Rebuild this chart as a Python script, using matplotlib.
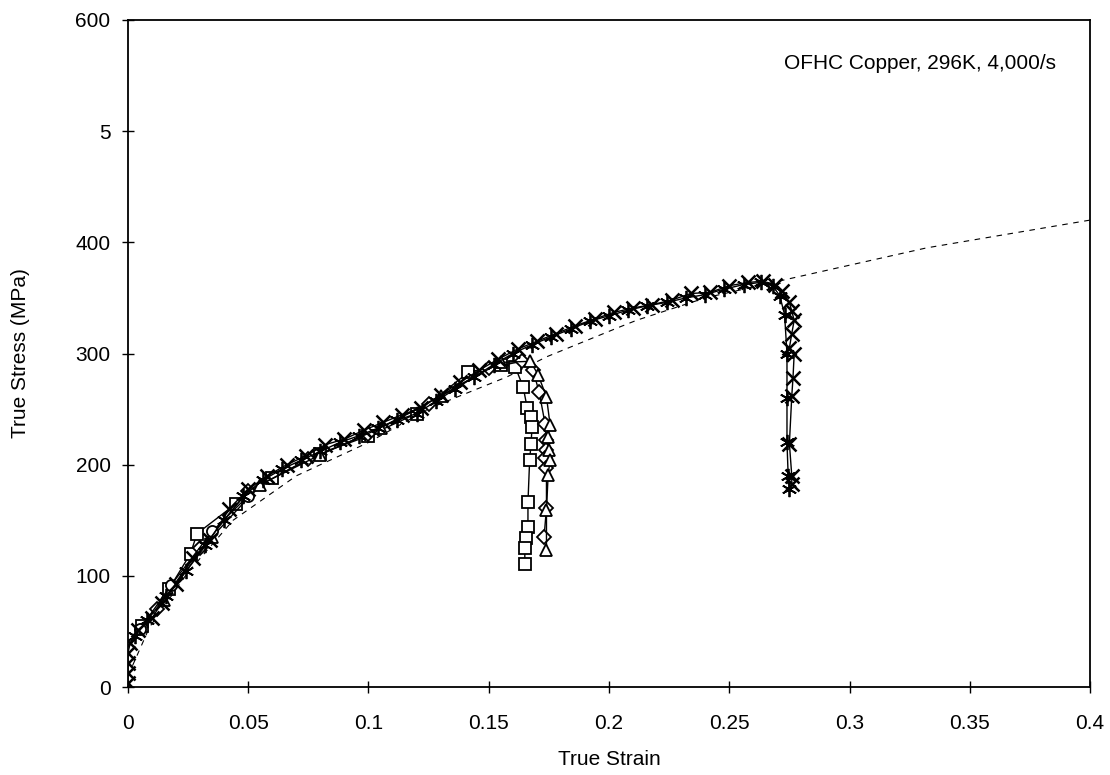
import numpy as np
import matplotlib
matplotlib.use("Agg")
import matplotlib.pyplot as plt

plt.rcParams['font.family'] = ['Liberation Sans', 'DejaVu Sans']

# dashed reference curve
dash_x = [0, 0.009, 0.0245, 0.0437, 0.07, 0.1, 0.1256, 0.1576, 0.174, 0.2046, 0.2116, 0.24, 0.2765, 0.332, 0.4]
dash_y = [10, 54, 102, 150, 190, 220, 251, 279, 297, 324, 330, 350, 368, 395, 420]

# x markers, test to 0.275
xs_x = [0, 0, 0, 0, 0.001, 0.004, 0.01, 0.014, 0.02, 0.027, 0.034, 0.042, 0.05, 0.058, 0.066, 0.074,
        0.082, 0.09, 0.098, 0.106, 0.114, 0.122, 0.13, 0.138, 0.146, 0.154, 0.162, 0.17, 0.178, 0.186,
        0.194, 0.202, 0.21, 0.218, 0.226, 0.234, 0.242, 0.25, 0.258, 0.264, 0.269, 0.272,
        0.275, 0.276, 0.277, 0.276, 0.275, 0.277, 0.2765, 0.276, 0.275, 0.276, 0.276]
xs_y = [4, 13, 22, 31, 40, 51, 62, 76, 93, 116, 132, 160, 178, 190, 200, 208,
        218, 223, 231, 238, 245, 251, 263, 274, 285, 295, 304, 311, 318, 325,
        331, 337, 341, 344, 348, 354, 355, 361, 364, 365, 362, 356,
        346, 338, 330, 318, 305, 300, 278, 262, 219, 190, 183]

# star markers, same test length
st_x = [0.003, 0.008, 0.016, 0.024, 0.032, 0.04, 0.048, 0.056, 0.064, 0.072, 0.08, 0.088, 0.096,
        0.104, 0.112, 0.12, 0.128, 0.136, 0.144, 0.152, 0.16, 0.168, 0.176, 0.184, 0.192, 0.2,
        0.208, 0.216, 0.224, 0.232, 0.24, 0.248, 0.256, 0.263, 0.268,
        0.271, 0.273, 0.274, 0.274, 0.274, 0.2745, 0.275]
st_y = [46, 60, 82, 104, 128, 150, 172, 186, 196, 204, 212, 220, 226,
        233, 240, 246, 257, 268, 279, 290, 300, 308, 315, 322, 329, 334,
        339, 343, 346, 350, 353, 358, 362, 364, 361,
        352, 335, 300, 260, 220, 190, 178]

# squares
sq_x = [0.006, 0.017, 0.026, 0.0287, 0.045, 0.06, 0.08, 0.1, 0.12, 0.1415, 0.155, 0.161,
        0.1643, 0.166, 0.1676, 0.168, 0.1676, 0.167, 0.1663, 0.1663, 0.1655, 0.165, 0.165]
sq_y = [55, 88, 120, 138, 165, 188, 210, 226, 246, 283, 290, 288,
        270, 251, 243, 234, 219, 204, 166, 144, 134, 125, 111]

# diamonds
di_x = [0.012, 0.03, 0.05, 0.075, 0.1, 0.125, 0.15, 0.1638, 0.1684, 0.171, 0.1734, 0.174, 0.174,
        0.1734, 0.174, 0.174, 0.173]
di_y = [70, 125, 176, 205, 228, 255, 287, 293, 285, 265, 237, 222, 213, 206, 197, 161, 135]

# triangles
tr_x = [0.015, 0.035, 0.055, 0.08, 0.105, 0.13, 0.155, 0.1673, 0.1705, 0.174, 0.1755, 0.1747,
        0.175, 0.1755, 0.1747, 0.174, 0.174]
tr_y = [78, 135, 182, 209, 233, 262, 292, 293, 281, 261, 236, 225, 213, 204, 191, 159, 123]

# circles (early part only)
ci_x = [0.005, 0.018, 0.035, 0.05]
ci_y = [52, 92, 140, 172]

yticks = [0, 100, 200, 300, 400, 500, 600]
ytick_labels = ['0', '100', '200', '300', '400', '5', '600']
xticks = [0, 0.05, 0.1, 0.15, 0.2, 0.25, 0.3, 0.35, 0.4]
xtick_labels = ['0', '0.05', '0.1', '0.15', '0.2', '0.25', '0.3', '0.35', '0.4']

fig = plt.figure(figsize=(11.1, 7.75), dpi=100)
ax = fig.add_axes([0.1153, 0.1135, 0.8667, 0.8607])

ax.plot(dash_x, dash_y, color='black', lw=0.8, ls=(0, (5, 5)))
ax.plot(sq_x, sq_y, color='black', lw=1, marker='s', ms=9, mfc='white', mec='black', mew=1.3)
ax.plot(di_x, di_y, color='black', lw=1, marker='D', ms=7.5, mfc='white', mec='black', mew=1.3)
ax.plot(tr_x, tr_y, color='black', lw=1, marker='^', ms=9, mfc='white', mec='black', mew=1.3)
ax.plot(ci_x, ci_y, color='black', lw=1, marker='o', ms=8, mfc='white', mec='black', mew=1.3)
ax.plot(st_x, st_y, color='black', lw=1, marker=(6, 2, 0), ms=11, mec='black', mew=1.3)
ax.plot(xs_x, xs_y, color='black', lw=1, marker='x', ms=10, mec='black', mew=1.8)

ax.set_xlim(0, 0.4)
ax.set_ylim(0, 600)
ax.set_xticks(xticks)
ax.set_xticklabels(xtick_labels)
ax.set_yticks(yticks)
ax.set_yticklabels(ytick_labels)
ax.tick_params(direction='inout', length=9, width=1, labelsize=15)
ax.tick_params(axis='x', pad=15)
ax.tick_params(axis='y', pad=8)
for s in ax.spines.values():
    s.set_linewidth(1.3)

ax.set_xlabel('True Strain', fontsize=15, labelpad=12)
ax.set_ylabel('True Stress (MPa)', fontsize=15, labelpad=33)
ax.text(0.386, 561, 'OFHC Copper, 296K, 4,000/s', ha='right', va='center', fontsize=15)

fig.savefig('out.png', dpi=100)
